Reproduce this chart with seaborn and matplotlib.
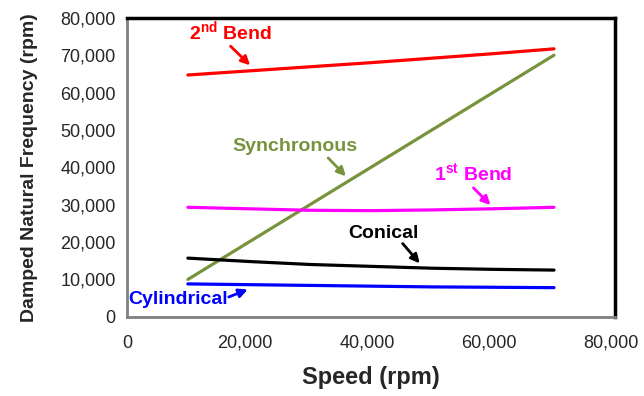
import numpy as np
import pandas as pd
import matplotlib
matplotlib.use("Agg")
import matplotlib.pyplot as plt
import matplotlib.transforms as mtransforms
import seaborn as sns

# data
speed = [10000, 20000, 30000, 40000, 50000, 60000, 70000]
bend2 = [64700, 65800, 66900, 68000, 69200, 70400, 71700]
synchronous = [10000, 20000, 30000, 40000, 50000, 60000, 70000]
bend1 = [29300, 28900, 28500, 28400, 28600, 28900, 29300]
conical = [15700, 14800, 14000, 13500, 13000, 12700, 12500]
cylindrical = [8800, 8600, 8400, 8200, 8000, 7900, 7800]

modes = ["2nd Bend", "Synchronous", "1st Bend", "Conical", "Cylindrical"]
colors = ["#ff0000", "#77933c", "#ff00ff", "#000000", "#0000ff"]

rows = []
for name, vals in zip(modes, [bend2, synchronous, bend1, conical, cylindrical]):
    for s, v in zip(speed, vals):
        rows.append({"speed": s, "freq": v, "mode": name})
df = pd.DataFrame(rows)

sns.set_style("white")
plt.rcParams["font.family"] = ["Liberation Sans", "DejaVu Sans"]
plt.rcParams["mathtext.fontset"] = "custom"
plt.rcParams["mathtext.rm"] = "Liberation Sans"
plt.rcParams["mathtext.bf"] = "Liberation Sans:bold"

fig, ax = plt.subplots(figsize=(6.44, 3.96), dpi=100)
fig.subplots_adjust(left=0.197, right=0.955, top=0.955, bottom=0.2)

sns.lineplot(data=df, x="speed", y="freq", hue="mode", palette=colors,
             linewidth=2.3, legend=False, ax=ax)

ax.set_xlim(0, 80000)
ax.set_ylim(0, 80000)
ax.set_xticks(np.arange(0, 80001, 20000))
ax.set_yticks(np.arange(0, 80001, 10000))
fmt = matplotlib.ticker.FuncFormatter(lambda v, p: f"{int(v):,}")
ax.xaxis.set_major_formatter(fmt)
ax.yaxis.set_major_formatter(fmt)
ax.tick_params(direction="in", length=4, width=1, color="#808080",
               labelsize=13, pad=8)
ax.tick_params(axis="x", pad=13)

# excel-like: x tick labels sit a little left of their ticks
shift = mtransforms.ScaledTranslation(-4 / 100, 0, fig.dpi_scale_trans)
for lab in ax.get_xticklabels()[1:]:
    lab.set_transform(lab.get_transform() + shift)

for side in ["left", "bottom"]:
    ax.spines[side].set_color("#808080")
    ax.spines[side].set_linewidth(2)
for side in ["top", "right"]:
    ax.spines[side].set_color("black")
    ax.spines[side].set_linewidth(2.5)

ax.set_xlabel("Speed (rpm)", fontsize=17, fontweight="bold", labelpad=10)
ax.set_ylabel("Damped Natural Frequency (rpm)", fontsize=14, fontweight="bold", labelpad=16)

# annotations: (label, text pos, arrow start, arrow tip, color)
notes = [
    (r"2$^{\mathbf{nd}}$ Bend", (17000, 76200), (17000, 72400), (20200, 67300), colors[0]),
    ("Synchronous", (27500, 45700), (33000, 42500), (35900, 37600), colors[1]),
    (r"1$^{\mathbf{st}}$ Bend", (56800, 38300), (56800, 34500), (59600, 29900), colors[2]),
    ("Conical", (42000, 22400), (45200, 19600), (48000, 14300), colors[3]),
    ("Cylindrical", (8400, 4500), (16700, 5300), (19800, 7300), colors[4]),
]
for label, xytext, start, tip, c in notes:
    ax.text(xytext[0], xytext[1], label, color=c, fontsize=14,
            fontweight="bold", ha="center", va="center")
    ax.annotate("", xy=tip, xytext=start,
                arrowprops=dict(arrowstyle="-|>", color=c, lw=2,
                                mutation_scale=13, shrinkA=0, shrinkB=0))

fig.savefig("out.png", dpi=100)
